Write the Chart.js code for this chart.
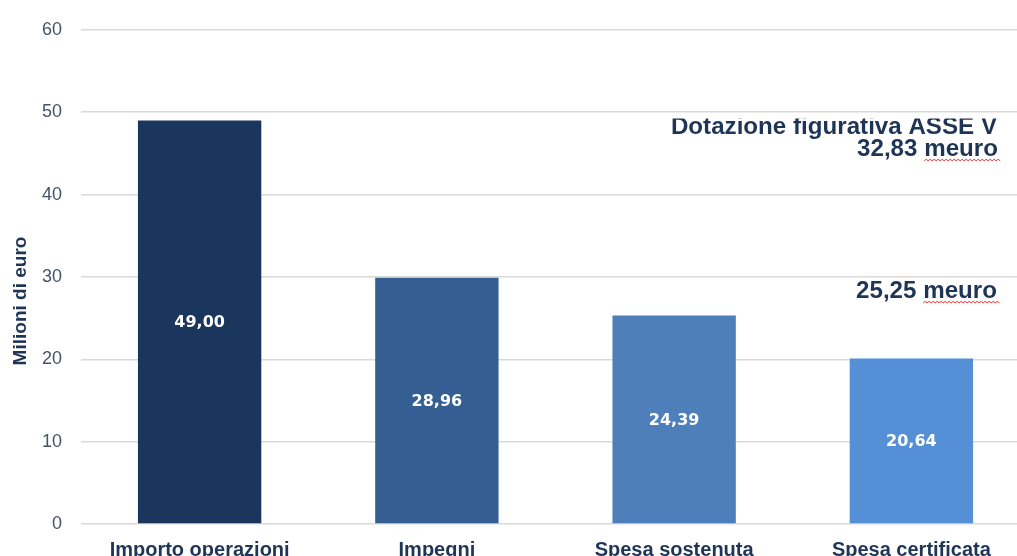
<!DOCTYPE html>
<html>
<head>
<meta charset="utf-8">
<script src="https://cdn.jsdelivr.net/npm/chart.js@4"></script>
<style>
  html, body { margin: 0; padding: 0; background: #fff; overflow: hidden; }
  #wrap { position: absolute; left: 0; top: 0; width: 1032px; height: 572px; }
</style>
</head>
<body>
<div id="wrap"><canvas id="mainChart"></canvas></div>
<script>
// categories and values
const categories = ['Importo operazioni', 'Impegni', 'Spesa sostenuta', 'Spesa certificata'];
const barHeights = [49.0, 29.9, 25.3, 20.1];
const valueLabels = ['49,00', '28,96', '24,39', '20,64'];
const barColors = ['#1b365d', '#355f93', '#4e7fbb', '#5590d6'];
const yTicks = [0, 10, 20, 30, 40, 50, 60];

const navy = '#1f3556';

function wavy(ctx, x0, x1, y) {
    ctx.save();
    ctx.strokeStyle = '#e03030';
    ctx.lineWidth = 1;
    ctx.beginPath();
    ctx.moveTo(x0, y);
    for (let x = x0, up = true; x < x1; x += 2, up = !up) {
        ctx.lineTo(x + 2, up ? y - 1.5 : y);
    }
    ctx.stroke();
    ctx.restore();
}

// right aligned text, a little wider than the font
function wideText(ctx, txt, right, base, sx) {
    ctx.save();
    ctx.translate(right, base);
    ctx.scale(sx, 1);
    ctx.fillText(txt, 0, 0);
    ctx.restore();
    return ctx.measureText(txt).width * sx;
}

// draws value labels, axis title and the side notes
const extras = {
    id: 'extras',
    afterDatasetsDraw(chart) {
        const ctx = chart.ctx;
        const y = chart.scales.y;

        ctx.save();
        ctx.fillStyle = '#ffffff';
        ctx.font = 'bold 16px "DejaVu Sans", sans-serif';
        ctx.textAlign = 'center';
        ctx.textBaseline = 'middle';
        chart.getDatasetMeta(0).data.forEach((bar, i) => {
            ctx.fillText(valueLabels[i], bar.x, (bar.y + bar.base) / 2 + 1);
        });

        // y axis title
        ctx.fillStyle = navy;
        ctx.font = 'bold 19px "Liberation Sans", Arial, sans-serif';
        ctx.translate(21, 301);
        ctx.rotate(-Math.PI / 2);
        ctx.fillText('Milioni di euro', 0, 0);
        ctx.restore();

        // notes on the right
        ctx.save();
        ctx.fillStyle = navy;
        ctx.font = 'bold 23px "Liberation Sans", Arial, sans-serif';
        ctx.textAlign = 'right';
        ctx.textBaseline = 'alphabetic';
        const right = 998;
        ctx.save();
        ctx.beginPath();
        ctx.rect(0, 118.5, chart.width, 40);
        ctx.clip();
        wideText(ctx, 'Dotazione figurativa ASSE V', right - 1, y.getPixelForValue(47.35), 1.05);
        ctx.restore();
        const b1 = y.getPixelForValue(44.7);
        wideText(ctx, '32,83 meuro', right, b1, 1.05);
        const b2 = y.getPixelForValue(27.45);
        wideText(ctx, '25,25 meuro', right - 1, b2, 1.05);
        const w = ctx.measureText('meuro').width * 1.05;
        wavy(ctx, right - w, right + 2, b1 + 5);
        wavy(ctx, right - 1 - w, right + 1, b2 + 5);
        ctx.restore();
    }
};

const ctx = document.getElementById('mainChart').getContext('2d');
new Chart(ctx, {
    type: 'bar',
    data: {
        labels: categories,
        datasets: [{
            data: barHeights,
            backgroundColor: barColors,
            categoryPercentage: 1,
            barPercentage: 0.52
        }]
    },
    options: {
        responsive: true,
        maintainAspectRatio: false,
        animation: false,
        layout: { padding: { top: 22, right: 2, left: 0, bottom: 0 } },
        plugins: {
            legend: { display: false },
            tooltip: { enabled: false }
        },
        scales: {
            x: {
                grid: { display: false },
                border: { display: false },
                ticks: {
                    color: navy,
                    padding: 6,
                    font: { family: '"Liberation Sans", Arial, sans-serif', size: 20, weight: 'bold' }
                },
                afterFit(scale) { scale.height = 48; }
            },
            y: {
                min: 0,
                max: 60,
                afterBuildTicks(scale) { scale.ticks = yTicks.map(v => ({ value: v })); },
                grid: { color: '#d9d9d9', lineWidth: 1.5, drawTicks: false },
                border: { display: false },
                ticks: {
                    color: '#44546a',
                    padding: 19,
                    font: { family: '"Liberation Sans", Arial, sans-serif', size: 18 }
                },
                afterFit(scale) { scale.width = 81; }
            }
        }
    },
    plugins: [extras]
});
</script>
</body>
</html>
